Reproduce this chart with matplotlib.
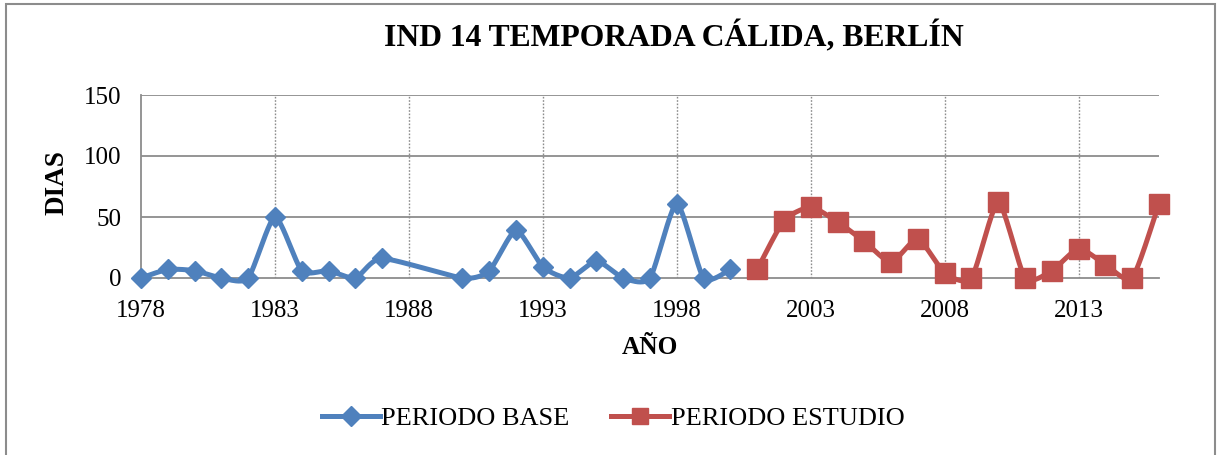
import numpy as np
import matplotlib
matplotlib.use("Agg")
import matplotlib.pyplot as plt
from matplotlib.lines import Line2D
from matplotlib.patches import Rectangle

# Days per year (IND 14, warm season, Berlin)
base_years = [1978, 1979, 1980, 1981, 1982, 1983, 1984, 1985, 1986, 1987,
              1990, 1991, 1992, 1993, 1994, 1995, 1996, 1997, 1998, 1999, 2000]
base_days = [0, 7, 6, 0, 0, 50, 6, 6, 0, 16,
             0, 6, 39, 9, 0, 14, 0, 0, 61, 0, 7]

study_years = [2001, 2002, 2003, 2004, 2005, 2006, 2007, 2008,
               2009, 2010, 2011, 2012, 2013, 2014, 2015, 2016]
study_days = [7, 47, 58, 46, 30, 13, 32, 4,
              0, 62, 0, 6, 24, 11, 0, 61]

x_ticks = [1978, 1983, 1988, 1993, 1998, 2003, 2008, 2013]
y_ticks = [0, 50, 100, 150]

BLUE = "#4F81BD"
RED = "#C0504D"
GRID = "#8C8C8C"
SERIF = ["Liberation Serif", "DejaVu Serif"]


def smooth(xs, ys, n=24, tension=0.32):
    """Cardinal spline through the points, like a smoothed spreadsheet line."""
    x = np.asarray(xs, float)
    y = np.asarray(ys, float)
    px = np.concatenate([[x[0]], x, [x[-1]]])
    py = np.concatenate([[y[0]], y, [y[-1]]])
    out_x, out_y = [], []
    t = np.linspace(0, 1, n, endpoint=False)
    for i in range(1, len(px) - 2):
        p0x, p1x, p2x, p3x = px[i - 1], px[i], px[i + 1], px[i + 2]
        p0y, p1y, p2y, p3y = py[i - 1], py[i], py[i + 1], py[i + 2]
        m1x, m1y = tension * (p2x - p0x), tension * (p2y - p0y)
        m2x, m2y = tension * (p3x - p1x), tension * (p3y - p1y)
        h00 = 2 * t**3 - 3 * t**2 + 1
        h10 = t**3 - 2 * t**2 + t
        h01 = -2 * t**3 + 3 * t**2
        h11 = t**3 - t**2
        out_x.append(h00 * p1x + h10 * m1x + h01 * p2x + h11 * m2x)
        out_y.append(h00 * p1y + h10 * m1y + h01 * p2y + h11 * m2y)
    out_x.append([x[-1]])
    out_y.append([y[-1]])
    return np.concatenate(out_x), np.concatenate(out_y)


fig = plt.figure(figsize=(12.22, 4.55), dpi=100)
fig.patch.set_facecolor("white")

# outer chart frame
fig.add_artist(Rectangle((6 / 1222, -0.01), 1209 / 1222, 1 - 4 / 455 + 0.01,
                         transform=fig.transFigure, fill=False,
                         edgecolor="#8C8C8C", linewidth=1.5))

ax = fig.add_axes([141 / 1222, 1 - 278 / 455, (1159 - 141) / 1222, (278 - 95) / 455])
ax.set_xlim(1978, 2016)
ax.set_ylim(0, 150)

for yv in y_ticks[1:]:
    ax.axhline(yv, color=GRID, lw=1.3, zorder=1)
for xv in x_ticks[1:]:
    ax.axvline(xv, color=GRID, lw=1.0, ls=(0, (1.2, 1.2)), zorder=1)

for s in ["top", "right"]:
    ax.spines[s].set_visible(False)
for s in ["left", "bottom"]:
    ax.spines[s].set_color(GRID)
    ax.spines[s].set_linewidth(1.3)

bx, by = smooth(base_years, base_days)
ax.plot(bx, by, color=BLUE, lw=3.6, solid_capstyle="round", zorder=3, clip_on=False)
ax.plot(base_years, base_days, ls="none", marker="D", ms=10, color=BLUE,
        zorder=4, clip_on=False)

sx, sy = smooth(study_years, study_days)
ax.plot(sx, sy, color=RED, lw=3.6, solid_capstyle="round", zorder=3, clip_on=False)
ax.plot(study_years, study_days, ls="none", marker="s", ms=14, color=RED,
        zorder=4, clip_on=False)

ax.set_xticks(x_ticks)
ax.set_yticks(y_ticks)
ax.tick_params(length=0, labelsize=18)
for lab in ax.get_xticklabels() + ax.get_yticklabels():
    lab.set_family(SERIF)
ax.tick_params(axis="x", pad=16)
ax.tick_params(axis="y", pad=14)

fig.text(674 / 1222, 1 - 37 / 455, "IND 14 TEMPORADA CÁLIDA, BERLÍN",
         ha="center", va="center", fontsize=22.8, fontweight="bold", family=SERIF)
fig.text(650 / 1222, 1 - 348 / 455, "AÑO", ha="center", va="center",
         fontsize=18.3, fontweight="bold", family=SERIF)
fig.text(57 / 1222, 1 - 183 / 455, "DIAS", ha="center", va="center", rotation=90,
         fontsize=19.5, fontweight="bold", family=SERIF)

handles = [
    Line2D([], [], color=BLUE, lw=3.6, marker="D", ms=10),
    Line2D([], [], color=RED, lw=3.6, marker="s", ms=12),
]
leg = fig.legend(handles, ["PERIODO BASE", "PERIODO ESTUDIO"], loc="center",
                 bbox_to_anchor=(613 / 1222, 1 - 418 / 455), ncol=2, frameon=False,
                 prop={"family": SERIF, "size": 19}, handlelength=2.2,
                 handletextpad=0.05, columnspacing=1.6)

fig.savefig("out.png", dpi=100, facecolor="white")
